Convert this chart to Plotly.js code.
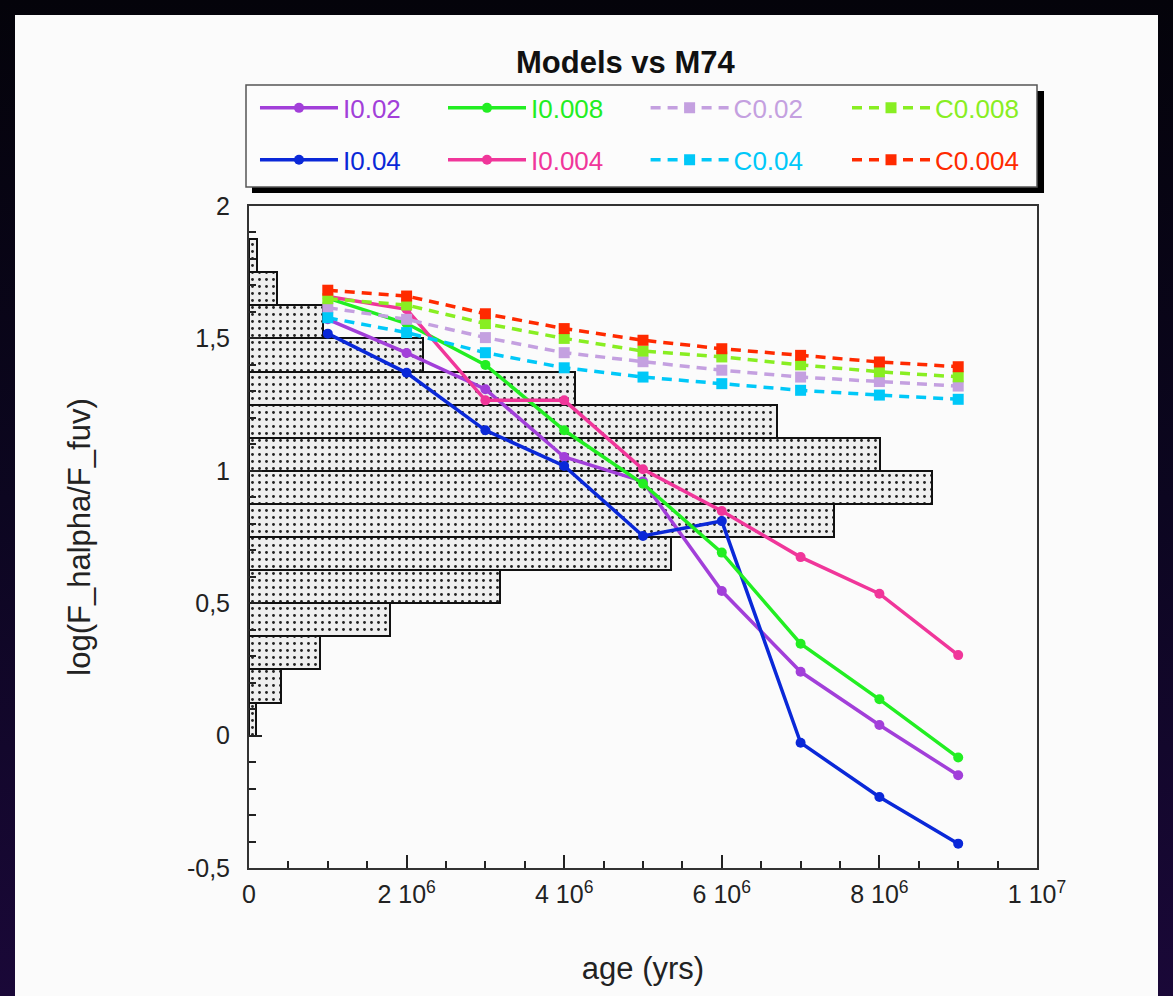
<!DOCTYPE html>
<html>
<head>
<meta charset="utf-8">
<script src="https://cdn.plot.ly/plotly-3.0.1.min.js"></script>
<style>
  html, body { margin:0; padding:0; width:1173px; height:996px; overflow:hidden;
    background: linear-gradient(to bottom, #04030a 0%, #0c0620 50%, #1a0838 100%); }
  #chart { position:absolute; left:15px; top:15px; width:1143px; height:981px; }
</style>
</head>
<body>
<div id="chart"></div>
<script>
// ---- data ----
const ages = [1e6, 2e6, 3e6, 4e6, 5e6, 6e6, 7e6, 8e6, 9e6];

const I002  = [1.572, 1.445, 1.308, 1.052, 0.960, 0.546, 0.241, 0.040, -0.150];
const I004  = [1.518, 1.370, 1.153, 1.018, 0.754, 0.810, -0.027, -0.232, -0.408];
const I0008 = [1.652, 1.556, 1.400, 1.153, 0.951, 0.691, 0.347, 0.137, -0.083];
const I0004 = [1.658, 1.610, 1.266, 1.266, 1.006, 0.848, 0.674, 0.536, 0.304];

const C002  = [1.616, 1.572, 1.503, 1.446, 1.412, 1.380, 1.354, 1.337, 1.320];
const C004  = [1.578, 1.522, 1.446, 1.389, 1.354, 1.329, 1.304, 1.286, 1.270];
const C0008 = [1.650, 1.626, 1.556, 1.500, 1.452, 1.430, 1.400, 1.374, 1.355];
const C0004 = [1.682, 1.660, 1.593, 1.537, 1.493, 1.461, 1.436, 1.411, 1.393];

// M74 histogram (horizontal bars, length expressed in x-axis units)
const histBinCenters = [0.0625, 0.1875, 0.3125, 0.4375, 0.5625, 0.6875, 0.8125, 0.9375,
                        1.0625, 1.1875, 1.3125, 1.4375, 1.5625, 1.6875, 1.8125];
const histBinWidth = 0.125;
const histValues = [0.09e6, 0.40e6, 0.90e6, 1.79e6, 3.18e6, 5.35e6, 7.42e6, 8.67e6,
                    8.01e6, 6.70e6, 4.14e6, 2.21e6, 0.94e6, 0.35e6, 0.10e6];

const xTickVals = [0, 2e6, 4e6, 6e6, 8e6, 1e7];
const xTickText = ['0', '2 10<sup>6</sup>', '4 10<sup>6</sup>', '6 10<sup>6</sup>', '8 10<sup>6</sup>', '1 10<sup>7</sup>'];
const yTickVals = [-0.5, 0, 0.5, 1, 1.5, 2];
const yTickText = ['-0,5', '0', '0,5', '1', '1,5', '2'];

// ---- styling ----
const FONT = 'Liberation Sans, Arial, Helvetica, sans-serif';

function series(name, y, color, dashed, legend, group) {
  return {
    type: 'scatter', mode: 'lines+markers', x: ages, y: y,
    name: '<span style="color:' + color + '">' + name + '</span>',
    legend: legend, legendgroup: group,
    line: { color: color, width: 3.5, dash: dashed ? '10px,7px' : 'solid' },
    marker: { color: color, size: dashed ? 11 : 10, symbol: dashed ? 'square' : 'circle' },
    hoverinfo: 'x+y+name'
  };
}

const traces = [
  {
    type: 'bar', orientation: 'h', x: histValues, y: histBinCenters, width: histBinWidth, base: 0,
    showlegend: false, hoverinfo: 'x+y',
    marker: {
      color: '#eeeeee',
      line: { color: '#111', width: 2 },
      pattern: { shape: '.', size: 7, solidity: 0.13, fgcolor: '#222', bgcolor: '#efefef', fillmode: 'replace' }
    }
  },
  series('I0.02',  I002,  '#a23fd9', false, 'legend',  'a'),
  series('I0.04',  I004,  '#0a28d8', false, 'legend',  'b'),
  series('I0.008', I0008, '#22ee22', false, 'legend2', 'c'),
  series('I0.004', I0004, '#f0369a', false, 'legend2', 'd'),
  series('C0.02',  C002,  '#c4a0e0', true,  'legend3', 'e'),
  series('C0.04',  C004,  '#00c8f8', true,  'legend3', 'f'),
  series('C0.008', C0008, '#88ee22', true,  'legend4', 'g'),
  series('C0.004', C0004, '#ff2a00', true,  'legend4', 'h')
];

function legendCol(x) {
  return {
    x: x, xanchor: 'left', y: 1.1088, yanchor: 'middle',
    orientation: 'v', bgcolor: 'rgba(0,0,0,0)', borderwidth: 0,
    itemwidth: 78, tracegroupgap: 15,
    font: { family: FONT, size: 26, color: '#222' }
  };
}

const layout = {
  width: 1143, height: 981,
  margin: { l: 234, r: 121, t: 191, b: 128 },
  paper_bgcolor: '#fbfbfb', plot_bgcolor: '#fbfbfb',
  font: { family: FONT, color: '#222' },
  title: {
    text: '<b>Models vs M74</b>', font: { family: FONT, size: 31, color: '#111' },
    x: 0.534, xref: 'container', xanchor: 'center', y: 0.952, yref: 'container', yanchor: 'middle'
  },
  showlegend: true,
  legend: legendCol(0.0076),
  legend2: legendCol(0.2462),
  legend3: legendCol(0.5033),
  legend4: legendCol(0.7589),
  bargap: 0,
  xaxis: {
    range: [0, 1e7], autorange: false, fixedrange: true,
    showline: true, linecolor: '#333', linewidth: 2, mirror: true,
    showgrid: false, zeroline: false,
    tickmode: 'array', tickvals: xTickVals, ticktext: xTickText,
    ticks: 'inside', ticklen: 13, tickwidth: 1.5, tickcolor: '#222',
    ticklabelstandoff: 3,
    minor: { tickmode: 'linear', tick0: 0, dtick: 5e5, ticks: 'inside', ticklen: 7, tickwidth: 1.5, tickcolor: '#222', showgrid: false },
    tickfont: { family: FONT, size: 25, color: '#222' },
    title: { text: 'age (yrs)', font: { family: FONT, size: 31, color: '#222' }, standoff: 50 }
  },
  yaxis: {
    range: [-0.5, 2], autorange: false, fixedrange: true,
    showline: true, linecolor: '#333', linewidth: 2, mirror: true,
    showgrid: false, zeroline: false,
    tickmode: 'array', tickvals: yTickVals, ticktext: yTickText,
    ticks: 'inside', ticklen: 13, tickwidth: 1.5, tickcolor: '#222',
    ticklabelstandoff: 12,
    minor: { tickmode: 'linear', tick0: 0, dtick: 0.1, ticks: 'inside', ticklen: 7, tickwidth: 1.5, tickcolor: '#222', showgrid: false },
    tickfont: { family: FONT, size: 25, color: '#222' },
    title: { text: 'log(F_halpha/F_fuv)', font: { family: FONT, size: 31, color: '#222' }, standoff: 87 }
  },
  shapes: [
    { type: 'rect', xref: 'paper', yref: 'paper', x0: 0.0038, x1: 1.0089, y0: 1.0196, y1: 1.1737,
      fillcolor: '#000', line: { width: 0 }, layer: 'below' },
    { type: 'rect', xref: 'paper', yref: 'paper', x0: -0.0038, x1: 1.0, y0: 1.0287, y1: 1.1828,
      fillcolor: '#fcfcfc', line: { color: '#555', width: 1.5 }, layer: 'below' }
  ]
};

Plotly.newPlot('chart', traces, layout, { displayModeBar: false, staticPlot: false });
</script>
</body>
</html>
